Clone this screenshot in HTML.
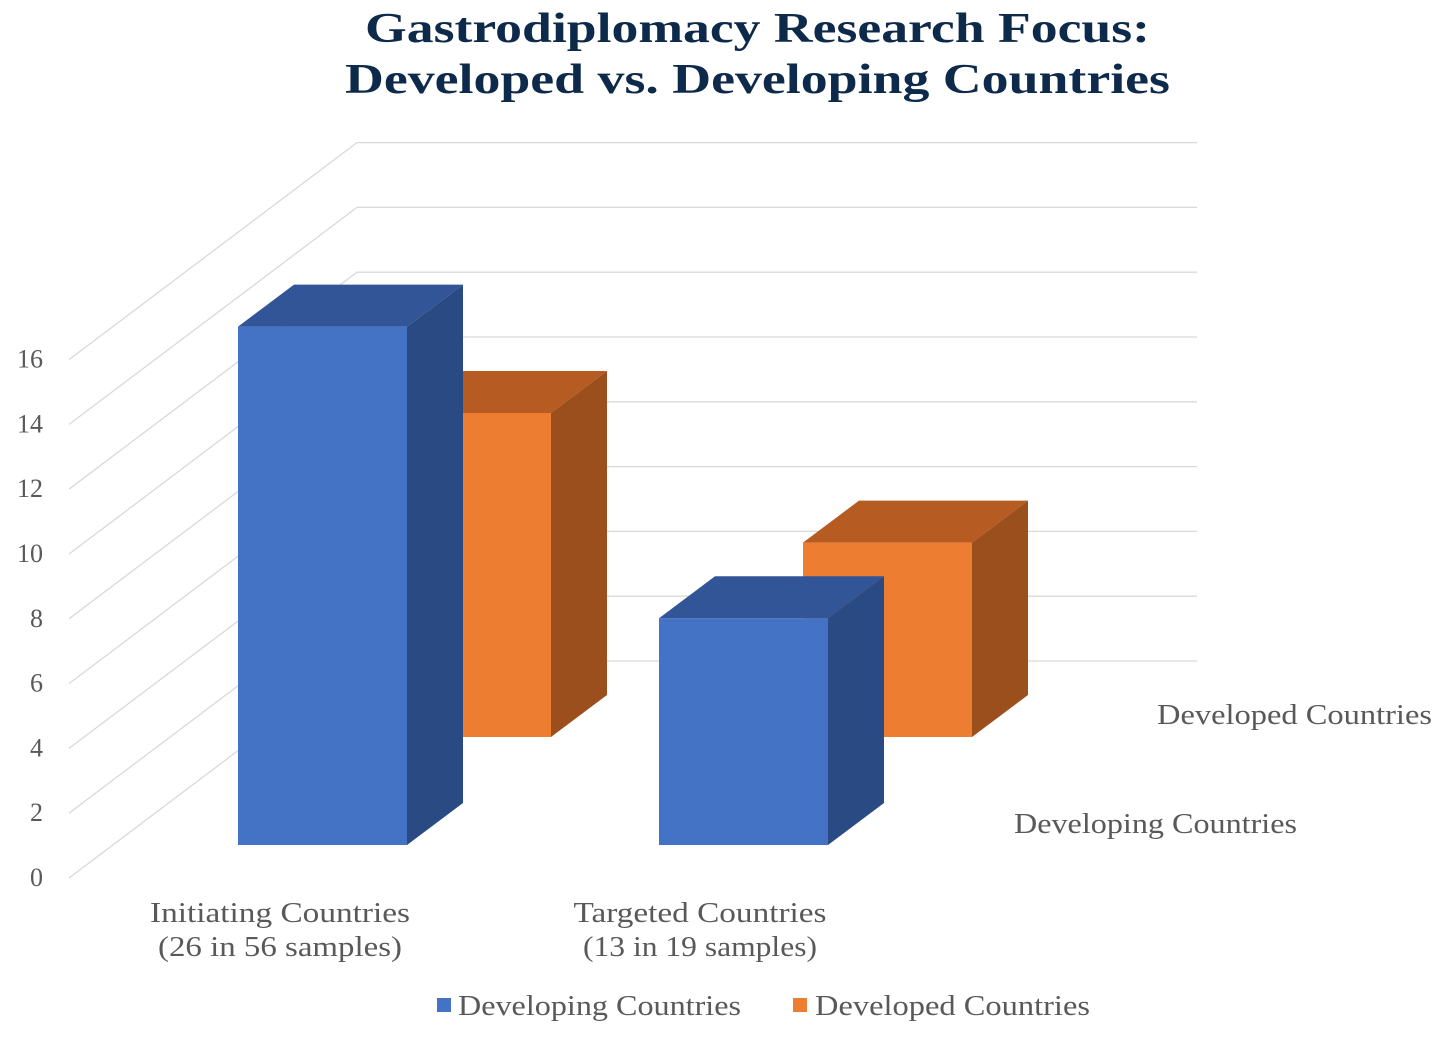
<!DOCTYPE html>
<html><head><meta charset="utf-8"><style>
body{margin:0;background:#fff;}
svg{display:block;}
text{font-family:"Liberation Serif",serif;}
</style></head><body>
<svg id="c" width="1441" height="1037" viewBox="0 0 1441 1037">
<text x="365" y="42" textLength="785" lengthAdjust="spacingAndGlyphs" font-size="42" font-weight="bold" fill="#0e2a4b">Gastrodiplomacy Research Focus:</text>
<text x="345" y="93" textLength="825" lengthAdjust="spacingAndGlyphs" font-size="42" font-weight="bold" fill="#0e2a4b">Developed vs. Developing Countries</text>
<g id="grid"></g><g id="bars"></g><g id="labels"></g>
<g>
<rect x="437" y="998" width="14" height="14" fill="#4472c4"/>
<text x="458" y="1015" textLength="283" lengthAdjust="spacingAndGlyphs" font-size="29" fill="#595959">Developing Countries</text>
<rect x="793" y="998" width="14" height="14" fill="#ed7d31"/>
<text x="815" y="1015" textLength="275" lengthAdjust="spacingAndGlyphs" font-size="29" fill="#595959">Developed Countries</text>
</g>
</svg>
<script>
const categories=["Initiating Countries|(26 in 56 samples)","Targeted Countries|(13 in 19 samples)"];
const seriesNames=["Developing Countries","Developed Countries"];
const developing=[16,7];
const developed=[10,6];
const yTicks=[0,2,4,6,8,10,12,14,16];
const NS="http://www.w3.org/2000/svg";
const unit=32.4;
function el(t,a,p){const e=document.createElementNS(NS,t);for(const k in a)e.setAttribute(k,a[k]);p.appendChild(e);return e;}
const grid=document.getElementById('grid'),bars=document.getElementById('bars'),labels=document.getElementById('labels');
function yFront(v){return 878-unit*v;}
function yBack(v){return 661-unit*v;}
yTicks.forEach(v=>{
 const l=el('polyline',{points:`69,${yFront(v)} 357,${yBack(v)} 1197,${yBack(v)}`,fill:'none',stroke:'#d9d9d9','stroke-width':1.3},grid);
 
 
 const t=el('text',{x:43,y:yFront(v)+8,'text-anchor':'end','font-size':26,fill:'#595959'},labels);
 t.textContent=v;
 
 
});
const catX=[238,659], barW=169, rowDx=144, rowDy=-108, depDx=56, depDy=-42, baseY=845;
const cols=[["#4472c4","#325598","#2a4a84"],["#ed7d31","#b65b22","#9a4f1d"]];
const series=[developing,developed];
function drawBar(s,i){
 const v=series[s][i];
 const x0=catX[i]+s*rowDx, yb=baseY+s*rowDy, yt=yb-unit*v, x1=x0+barW;
 const g=el('g',{},bars);
 
 
 el('polygon',{points:`${x0},${yt} ${x0+depDx},${yt+depDy} ${x1+depDx},${yt+depDy} ${x1},${yt}`,fill:cols[s][1]},g);
 el('polygon',{points:`${x1},${yt} ${x1+depDx},${yt+depDy} ${x1+depDx},${yb+depDy} ${x1},${yb}`,fill:cols[s][2]},g);
 el('rect',{x:x0,y:yt,width:barW,height:yb-yt,fill:cols[s][0]},g);
}
[1,0].forEach(s=>{[0,1].forEach(i=>drawBar(s,i));});
const catLabelLen=[[260,244],[253,234]];
categories.forEach((c,i)=>{
 const parts=c.split('|');
 parts.forEach((p,j)=>{
  const t=el('text',{x:[280,700][i],y:922+j*34,'text-anchor':'middle','font-size':29,fill:'#595959',textLength:catLabelLen[i][j],lengthAdjust:'spacingAndGlyphs'},labels);
  t.textContent=p;
  
  
 });
});
[[1157,724,1,275],[1014,833,0,283]].forEach(a=>{
 const t=el('text',{x:a[0],y:a[1],'font-size':29,fill:'#595959',textLength:a[3],lengthAdjust:'spacingAndGlyphs'},labels);
 t.textContent=seriesNames[a[2]];
 
 
});
</script>
</body></html>
